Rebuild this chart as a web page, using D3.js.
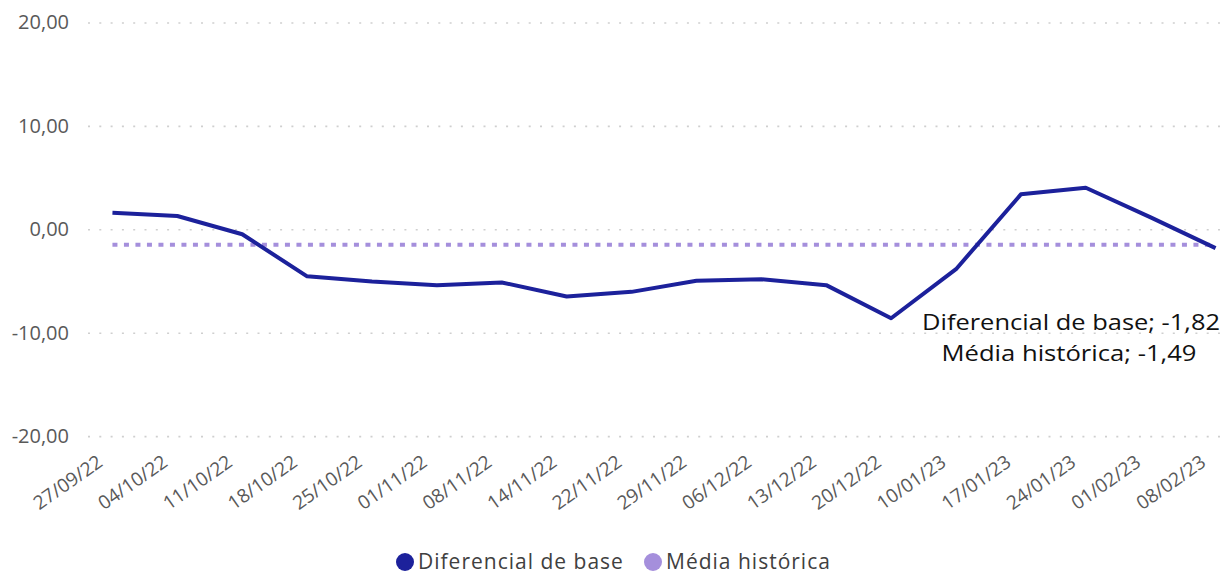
<!DOCTYPE html>
<html>
<head>
<meta charset="utf-8">
<script src="https://cdn.jsdelivr.net/npm/d3@7"></script>
<style>
  body { margin: 0; background: #fff; }
  svg { display: block; }
</style>
</head>
<body>
<svg width="1227" height="575"></svg>
<script>
// weekly dates
var categories = ["27/09/22","04/10/22","11/10/22","18/10/22","25/10/22","01/11/22","08/11/22","14/11/22","22/11/22","29/11/22","06/12/22","13/12/22","20/12/22","10/01/23","17/01/23","24/01/23","01/02/23","08/02/23"];
var diferencial = [1.61, 1.29, -0.48, -4.55, -5.05, -5.40, -5.14, -6.50, -6.05, -4.98, -4.83, -5.40, -8.60, -3.86, 3.38, 4.02, 1.15, -1.82];
var media = [-1.49, -1.49, -1.49, -1.49, -1.49, -1.49, -1.49, -1.49, -1.49, -1.49, -1.49, -1.49, -1.49, -1.49, -1.49, -1.49, -1.49, -1.49];
var yTicks = [-20, -10, 0, 10, 20];
var seriesNames = ["Diferencial de base", "Média histórica"];

var blue = "#1c219b";
var purple = "#a58fdc";

var svg = d3.select("svg");

var x = d3.scalePoint()
    .domain(categories)
    .range([80, 1248])
    .padding(0.5);

var y = d3.scaleLinear()
    .domain([-20, 20])
    .range([436.1, 22.5]);

var br = d3.formatLocale({decimal: ",", thousands: ".", grouping: [3], currency: ["R$", ""], minus: "-"});
var fmt = br.format(".2f");

// y axis + gridlines
var yAxis = svg.append("g")
    .attr("transform", "translate(88,0)")
    .call(d3.axisLeft(y).tickValues(yTicks).tickSize(-(1227 - 88)).tickPadding(19).tickFormat(fmt));
yAxis.select(".domain").remove();
yAxis.selectAll(".tick line")
    .attr("stroke", "#cfcfcf")
    .attr("stroke-width", 1.6)
    .attr("stroke-dasharray", "2,9.3");
yAxis.selectAll(".tick text")
    .attr("font-family", "Open Sans")
    .attr("font-size", "20px")
    .attr("fill", "#595959");

// x axis labels
var xAxis = svg.append("g")
    .attr("transform", "translate(0,436)")
    .call(d3.axisBottom(x).tickSize(0));
xAxis.select(".domain").remove();
xAxis.selectAll(".tick text")
    .attr("font-family", "Open Sans")
    .attr("font-size", "19px")
    .attr("fill", "#595959")
    .attr("text-anchor", "end")
    .attr("dy", null)
    .attr("y", null)
    .attr("transform", "translate(-9,29) rotate(-35)");

// média histórica (dotted)
var line = d3.line()
    .x(function(d, i) { return x(categories[i]); })
    .y(function(d) { return y(d); });

svg.append("path")
    .datum(media)
    .attr("d", line)
    .attr("fill", "none")
    .attr("stroke", purple)
    .attr("stroke-width", 4)
    .attr("stroke-dasharray", "5,6.5");

svg.append("path")
    .datum(diferencial)
    .attr("d", line)
    .attr("fill", "none")
    .attr("stroke", blue)
    .attr("stroke-width", 4)
    .attr("stroke-linejoin", "round");

// data labels for the last point
var last = categories.length - 1;
svg.append("text")
    .attr("x", 1071)
    .attr("y", 330)
    .attr("text-anchor", "middle")
    .attr("font-family", "Open Sans")
    .attr("font-size", "22px")
    .attr("fill", "#111")
    .attr("textLength", 298)
    .attr("lengthAdjust", "spacingAndGlyphs")
    .text(seriesNames[0] + "; " + fmt(diferencial[last]));
svg.append("text")
    .attr("x", 1069)
    .attr("y", 361)
    .attr("text-anchor", "middle")
    .attr("font-family", "Open Sans")
    .attr("font-size", "22px")
    .attr("fill", "#111")
    .attr("textLength", 255)
    .attr("lengthAdjust", "spacingAndGlyphs")
    .text(seriesNames[1] + "; " + fmt(media[last]));

// legend
var legendX = [405, 653];
var legend = svg.selectAll(".leg")
    .data(seriesNames)
    .enter()
    .append("g")
    .attr("transform", function(d, i) { return "translate(" + legendX[i] + ",562)"; });
legend.append("circle")
    .attr("r", 9)
    .attr("fill", function(d, i) { return i === 0 ? blue : purple; });
legend.append("text")
    .attr("x", 13)
    .attr("dy", "0.35em")
    .attr("font-family", "Open Sans")
    .attr("font-size", "21px")
    .attr("letter-spacing", "1px")
    .attr("fill", "#404040")
    .text(function(d) { return d; });
</script>
</body>
</html>
